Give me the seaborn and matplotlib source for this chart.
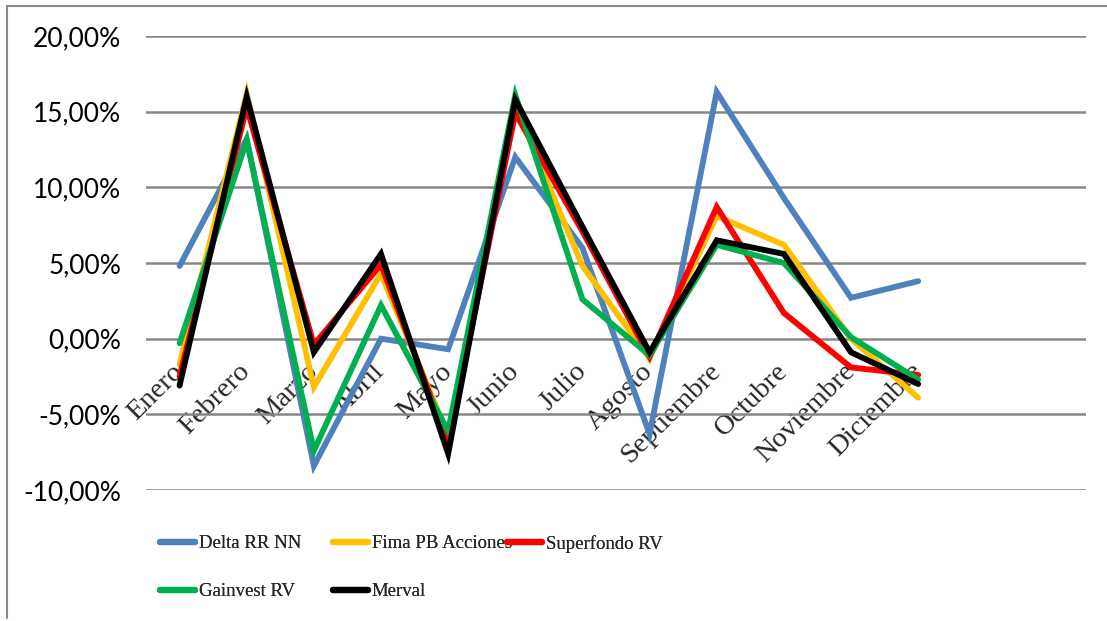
import matplotlib
matplotlib.use("Agg")
import matplotlib.pyplot as plt
import seaborn as sns
import pandas as pd
import numpy as np
from matplotlib.lines import Line2D
from matplotlib.ticker import FuncFormatter, MultipleLocator

months = ["Enero", "Febrero", "Marzo", "Abril", "Mayo", "Junio", "Julio",
          "Agosto", "Septiembre", "Octubre", "Noviembre", "Diciembre"]
series_names = ["Delta RR NN", "Fima PB Acciones", "Superfondo RV", "Gainvest RV", "Merval"]
delta = [4.8, 13.2, -8.4, 0.0, -0.7, 12.0, 6.0, -6.3, 16.3, 9.3, 2.7, 3.8]
fima = [-1.7, 16.2, -3.2, 4.3, -6.4, 15.4, 4.8, -1.3, 8.1, 6.2, 0.0, -3.9]
superfondo = [-2.5, 15.3, -0.4, 4.9, -6.9, 14.9, 7.1, -1.2, 8.7, 1.7, -1.9, -2.4]
gainvest = [-0.3, 13.1, -7.4, 2.2, -6.1, 16.1, 2.6, -1.1, 6.2, 5.0, 0.1, -2.7]
merval = [-3.1, 16.0, -0.9, 5.6, -7.6, 15.8, 7.4, -0.9, 6.5, 5.6, -0.9, -3.0]
colors = ["#4F81BD", "#FFC000", "#FF0000", "#00B050", "#000000"]

rows = []
for name, vals in zip(series_names, [delta, fima, superfondo, gainvest, merval]):
    for m, v in zip(months, vals):
        rows.append({"Mes": m, "Serie": name, "Valor": v / 100.0})
df = pd.DataFrame(rows)

sns.set_theme(style="white")
plt.rcParams["font.family"] = ["Liberation Serif", "DejaVu Serif"]

fig = plt.figure(figsize=(11.07, 6.21), dpi=100)
ax = fig.add_axes([146 / 1107, 1 - 490 / 621, (1086 - 146) / 1107, (490 - 36) / 621])

sns.lineplot(data=df, x="Mes", y="Valor", hue="Serie", hue_order=series_names,
             palette=dict(zip(series_names, colors)), sort=False, linewidth=4.2,
             ax=ax, legend=False)
for ln in ax.get_lines():
    ln.set_solid_capstyle("round")
    ln.set_solid_joinstyle("miter")

ax.set_xlim(-0.5, 13.5)
ax.set_ylim(-0.10, 0.20)
ax.yaxis.set_major_locator(MultipleLocator(0.05))
ax.yaxis.set_major_formatter(FuncFormatter(lambda v, p: f"{v*100:.2f}%".replace(".", ",")))
ax.grid(axis="y", color="#868686", linewidth=1.8)
ax.grid(axis="x", visible=False)
ax.set_axisbelow(True)
for s in ["top", "right", "left"]:
    ax.spines[s].set_visible(False)
ax.spines["bottom"].set_position(("data", 0))
ax.spines["bottom"].set_color("none")
ax.set_xlabel("")
ax.set_ylabel("")
ax.set_xticks(range(len(months)))
ax.set_xticklabels(months, rotation=45, ha="right", va="center",
                   rotation_mode="anchor", fontsize=20.5, family="Liberation Serif")
ax.tick_params(axis="x", length=0, pad=21)
ax.tick_params(axis="y", length=0, pad=18)
for t in ax.get_yticklabels():
    t.set_family(["Lato", "DejaVu Sans"])
    t.set_fontsize(19)
    t.set_color("black")

# legend in three columns placed like the original
handles = {n: Line2D([], [], color=c, linewidth=4.5, solid_capstyle="round")
           for n, c in zip(series_names, colors)}
leg_kw = dict(frameon=False, prop={"family": "Liberation Serif", "size": 13.5},
              handlelength=1.85, handletextpad=0.22, labelspacing=1.65,
              borderaxespad=0, borderpad=0, loc="upper left")
groups = [(["Delta RR NN", "Gainvest RV"], 160),
          (["Fima PB Acciones", "Merval"], 333),
          (["Superfondo RV"], 507)]
for names, xpx in groups:
    lg = fig.legend([handles[n] for n in names], names,
                    bbox_to_anchor=(xpx / 1107, 1 - 535 / 621), **leg_kw)
    fig.add_artist(lg)

# outer chart border (left and top only visible)
fig.add_artist(Line2D([7 / 1107, 7 / 1107], [1 - 618 / 621, 1 - 6 / 621],
                      transform=fig.transFigure, color="#898989", linewidth=1.5))
fig.add_artist(Line2D([7 / 1107, 1.0], [1 - 6 / 621, 1 - 6 / 621],
                      transform=fig.transFigure, color="#898989", linewidth=1.5))

fig.savefig("out.png", dpi=100)
